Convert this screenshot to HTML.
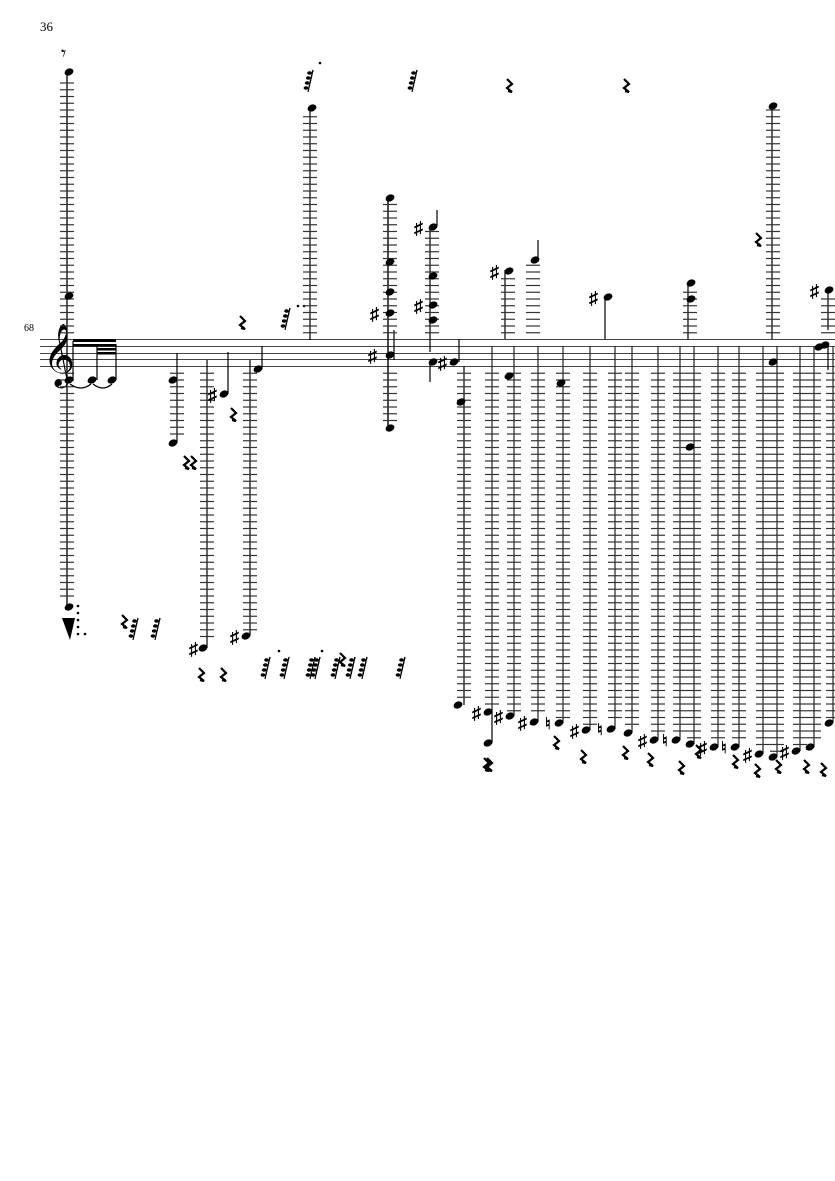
<!DOCTYPE html>
<html><head><meta charset="utf-8"><style>
html,body{margin:0;padding:0;background:#fff}
svg{display:block}
text{font-family:"Liberation Serif",serif}
</style></head><body>
<svg id="s" width="835" height="1181" viewBox="0 0 835 1181" xmlns="http://www.w3.org/2000/svg">
<text x="40" y="31" font-size="13">36</text>
<text x="24" y="331" font-size="10">68</text>
<g stroke="#444" stroke-width="1">
<line x1="40" y1="339.5" x2="835" y2="339.5"/>
<line x1="40" y1="346.5" x2="835" y2="346.5"/>
<line x1="40" y1="353.5" x2="835" y2="353.5"/>
<line x1="40" y1="359.5" x2="835" y2="359.5"/>
<line x1="40" y1="366.5" x2="835" y2="366.5"/>
</g>
<text x="43" y="373" font-size="54" font-family="DejaVu Sans">𝄞</text>
<g id="g"></g>
</svg>
<script>
var g=document.getElementById('g'),h='';
var T=339.5,B=366.5,S=6.75;
function L(x1,y1,x2,y2,w,c){h+='<line x1="'+x1+'" y1="'+y1+'" x2="'+x2+'" y2="'+y2+'" stroke="'+(c||'#000')+'" stroke-width="'+(w||1)+'"/>';}
function N(x,y){h+='<ellipse cx="'+x+'" cy="'+y+'" rx="4.6" ry="3.4" transform="rotate(-25 '+x+' '+y+')" fill="#000"/>';}
function n2(x,y){h+='<ellipse cx="'+x+'" cy="'+y+'" rx="2.4" ry="1.8" fill="#000"/>';}
function SH(x,y){h+='<text x="'+(x-14)+'" y="'+(y+7)+'" font-size="18" font-weight="bold" font-family="DejaVu Sans">♯</text>';}
function NAT(x,y){h+='<text x="'+(x-12)+'" y="'+(y+6)+'" font-size="16" font-weight="bold" font-family="DejaVu Sans">♮</text>';}
function R(x,y){h+='<polyline points="'+(x-2)+','+(y-7)+' '+(x+3)+','+(y-2)+' '+(x-2)+','+(y+2)+' '+(x+3)+','+(y+6)+' '+(x-1)+','+(y+5)+'" fill="none" stroke="#000" stroke-width="2.2"/>';}
function ledUp(x,top){for(var y=T-S;y>=top-1;y-=S)L(x-7,y,x+7,y,1.2,'#333');}
function ledDn(x,bot){for(var y=B+S;y<=bot+1;y+=S)L(x-7,y,x+7,y,1.2,'#333');}
function QR(x,y,n){
 L(x+5,y-10,x,y+12,1.2);for(var i=0;i<n;i++){n2(x-2+(3-i)*1.2, y-7+i*5);L(x-1+(3-i)*1.2+2,y-8+i*5,x+5-i*1.2,y-10+i*5,1.2);}
}
L(67,72,67,610,1.3);ledUp(67,78);ledDn(67,600);N(69,72);N(69,296);N(69,607);
h+='<text x="61" y="60" font-size="20" font-family="DejaVu Sans">𝄾</text>';
h+='<path d="M62 618 L75 618 L70 640 Z" fill="#000"/>';
for(var i=0;i<5;i++){h+='<circle cx="78" cy="'+(606+i*7)+'" r="1.3"/>';}
h+='<circle cx="85" cy="634" r="1.3"/>';
L(73,341,73,380,1.2);L(97,344,97,380,1.2);L(116,344,116,380,1.2);
h+='<rect x="73" y="339" width="43" height="3" fill="#000"/><rect x="73" y="344" width="43" height="2.5" fill="#000"/><rect x="97" y="348" width="19" height="2.5" fill="#000"/><rect x="97" y="352" width="19" height="2.5" fill="#000"/>';
N(69,380);N(92,380);N(112,380);
h+='<path d="M70 384 Q81 392 91 384 M93 384 Q103 392 112 384" fill="none" stroke="#000" stroke-width="1.2"/>';
L(177,353,177,443,1.2);ledDn(177,437);N(173,380);N(173,443);R(186,463);R(193,463);
L(207,360,207,648,1.2);ledDn(207,642);N(203,648);SH(203,648);R(201,675);
L(228,352,228,394,1.2);N(224,394);SH(222,394);R(233,415);R(223,675);
L(250,360,250,636,1.2);ledDn(250,630);N(246,636);SH(244,636);
L(262,346,262,369,1.2);N(258,369);R(242,323);
QR(285,318,4);h+='<circle cx="298" cy="306" r="1.3"/><circle cx="304" cy="306" r="1.3"/>';
L(310,108,310,340,1.2);ledUp(310,114);N(312,108);
QR(308,80,4);h+='<circle cx="320" cy="63" r="1.3"/>';QR(412,80,4);R(509,86);R(626,86);
L(388,198,388,430,1.4);L(394,330,394,360,1.2);ledUp(390,205);ledDn(390,422);
N(390,198);N(390,262);N(390,292);N(390,313);N(390,355);N(390,428);SH(384,313);SH(382,355);
L(430,226,430,352,1.2);L(437,210,437,226,1.2);ledUp(432,232);N(433,227);SH(428,227);N(433,276);N(433,305);N(433,320);SH(428,305);
L(430,362,430,382,1.2);N(433,362);
L(459,339,459,362,1.2);N(454,362);SH(452,362);
L(464,366,464,705,1.2);ledDn(464,697);N(461,402);N(458,705);
var cols=[[492,712,'s'],[514,716,'s'],[538,722,'s'],[563,723,'n'],[590,730,'s'],[615,729,'n'],[632,733,''],[658,740,'s'],[680,740,'n'],[694,744,''],[718,747,'s'],[739,747,'n'],[763,754,'s'],[777,757,''],[800,751,'s'],[814,747,''],[833,723,'']];
cols.forEach(function(c){L(c[0],346,c[0],c[1],1.2,'#222');ledDn(c[0],c[1]-6);N(c[0]-4,c[1]);if(c[2]=='s')SH(c[0]-6,c[1]);if(c[2]=='n')NAT(c[0]-6,c[1]);});
N(488,743);L(492,712,492,743,1.2);
N(509,376);N(561,383);N(690,447);N(773,362);N(825,345);N(819,347);L(828,345,828,370,1.2);
[[486,765],[556,743],[583,757],[625,753],[650,760],[698,752],[735,762],[757,771],[778,767],[806,767],[823,770],[489,765],[681,768]].forEach(function(r){R(r[0],r[1]);});
L(505,270,505,339,1.2);ledUp(508,276);N(509,271);SH(504,271);
L(538,240,538,262,1.2);ledUp(533,265);N(535,260);
L(605,300,605,339,1.2);N(608,297);SH(603,297);
L(688,282,688,339,1.2);ledUp(690,288);N(691,283);N(691,299);
L(772,105,772,339,1.2);ledUp(773,111);N(773,106);R(758,240);
L(828,290,828,330,1.2);ledUp(828,297);N(829,290);SH(824,290);
QR(133,628,4);R(124,622);QR(155,628,4);
[265,284,310,315,335,350,362,400].forEach(function(x){QR(x,667,4);});
R(342,660);h+='<circle cx="279" cy="651" r="1.3"/><circle cx="322" cy="651" r="1.3"/>';
g.innerHTML=h;
</script>
</body></html>
